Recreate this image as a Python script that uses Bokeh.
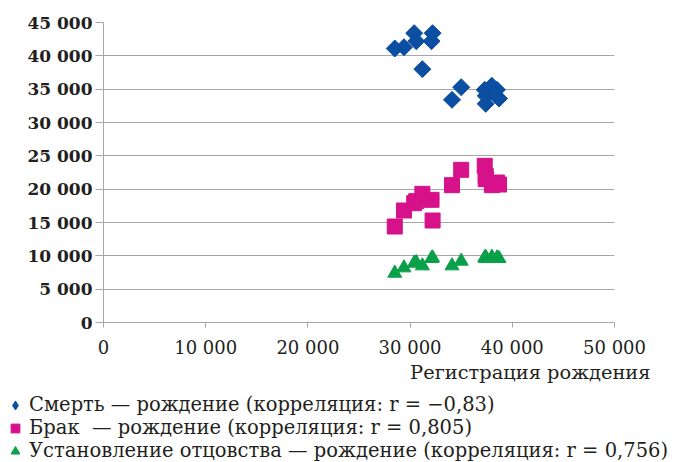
import math
from bokeh.plotting import figure
from bokeh.layouts import column
from bokeh.models import (ColumnDataSource, Legend, LegendItem, Label,
                          FixedTicker, Range1d)
from bokeh.embed import file_html
from bokeh.resources import INLINE

# ---- data ----
births = [28500, 29400, 30400, 30600, 31200, 32100, 32200, 34100, 35000,
          37300, 37400, 37400, 38000, 38500, 38700]
deaths = [41100, 41300, 43400, 42200, 38000, 42200, 43400, 33400, 35300,
          34900, 34000, 32800, 35500, 34900, 33600]
marriages = [14400, 16800, 17900, 18200, 19300, 18400, 15300, 20600, 22900,
             23500, 21500, 22000, 20600, 21000, 20700]
paternity = [7400, 8200, 8900, 9000, 8500, 9600, 9700, 8500, 9200,
             9700, 9600, 9800, 9800, 9700, 9600]

series_labels = [
    "Смерть — рождение (корреляция: r = −0,83)",
    "Брак  — рождение (корреляция: r = 0,805)",
    "Установление отцовства — рождение (корреляция: r = 0,756)",
]
x_axis_title = "Регистрация рождения"
x_ticks = [0, 10000, 20000, 30000, 40000, 50000]
x_tick_labels = ["0", "10 000", "20 000", "30 000", "40 000", "50 000"]
y_ticks = [0, 5000, 10000, 15000, 20000, 25000, 30000, 35000, 40000, 45000]
y_tick_labels = ["0", "5 000", "10 000", "15 000", "20 000", "25 000",
                 "30 000", "35 000", "40 000", "45 000"]

FONT = "DejaVu Serif"
GRID = "#a6a6a6"
TXT = "#231f20"
COLORS = ["#0b4ea2", "#d6118a", "#0aa04a"]

src = ColumnDataSource(dict(x=births, d=deaths, m=marriages, p=paternity))

# ---------------- main chart ----------------
p = figure(width=676, height=360, output_backend="svg", toolbar_location=None,
           x_range=Range1d(0, 50000), y_range=Range1d(0, 45000),
           min_border_left=103, min_border_right=62, min_border_top=22,
           min_border_bottom=35)
p.frame_align = False
p.outline_line_color = None
p.scatter("x", "d", source=src, marker="square", size=12, angle=math.pi / 4,
          fill_color=COLORS[0], line_color=COLORS[0])
p.scatter("x", "m", source=src, marker="square", size=15,
          fill_color=COLORS[1], line_color=COLORS[1])
p.scatter("x", "p", source=src, marker="triangle", size=14,
          fill_color=COLORS[2], line_color=COLORS[2])

p.xaxis.ticker = FixedTicker(ticks=x_ticks)
p.yaxis.ticker = FixedTicker(ticks=y_ticks)
p.xaxis.major_label_overrides = dict(zip(x_ticks, x_tick_labels))
p.yaxis.major_label_overrides = dict(zip(y_ticks, y_tick_labels))
for ax in (p.xaxis, p.yaxis):
    ax.axis_line_color = GRID
    ax.major_tick_line_color = GRID
    ax.minor_tick_line_color = None
    ax.major_tick_in = 0
    ax.major_label_text_font = FONT
    ax.major_label_text_color = TXT
p.xaxis.major_label_text_font_size = "18px"
p.yaxis.major_label_text_font_size = "17px"
p.xaxis.major_tick_out = 5
p.yaxis.major_tick_out = 8
p.xaxis.major_label_standoff = 9
p.yaxis.major_label_standoff = 3
p.yaxis.major_label_text_font_style = "bold"

p.ygrid.ticker = FixedTicker(ticks=y_ticks)
p.ygrid.grid_line_color = GRID
p.xgrid.ticker = FixedTicker(ticks=[50000])
p.xgrid.grid_line_color = GRID

# ---------------- axis title + legend strip ----------------
q = figure(width=676, height=102, output_backend="svg", toolbar_location=None,
           x_range=Range1d(0, 1), y_range=Range1d(0, 1),
           x_axis_location=None, y_axis_location=None,
           min_border_left=0, min_border_right=0, min_border_top=0,
           min_border_bottom=0)
q.frame_align = False
q.outline_line_color = None
q.grid.visible = False
# same data, lying outside this strip's visible range; they only supply legend glyphs
r1 = q.scatter("x", "d", source=src, marker="diamond", size=12,
               fill_color=COLORS[0], line_color=COLORS[0])
r2 = q.scatter("x", "m", source=src, marker="square", size=12,
               fill_color=COLORS[1], line_color=COLORS[1])
r3 = q.scatter("x", "p", source=src, marker="triangle", size=12,
               fill_color=COLORS[2], line_color=COLORS[2])

q.add_layout(Label(x=650, y=90, x_units="screen", y_units="screen",
                   text=x_axis_title, text_align="right", text_baseline="middle",
                   text_font=FONT, text_font_size="19.4px", text_color=TXT))

legend = Legend(items=[LegendItem(label=series_labels[0], renderers=[r1]),
                       LegendItem(label=series_labels[1], renderers=[r2]),
                       LegendItem(label=series_labels[2], renderers=[r3])],
                location=(1, 0), orientation="vertical",
                padding=0, spacing=0, margin=0, label_height=22, glyph_height=22,
                glyph_width=28, label_standoff=0,
                label_text_font=FONT, label_text_font_size="19.5px",
                label_text_color=TXT,
                border_line_color=None, background_fill_alpha=0)
q.add_layout(legend, "center")

open("out.html", "w").write(file_html(column(p, q), INLINE))
